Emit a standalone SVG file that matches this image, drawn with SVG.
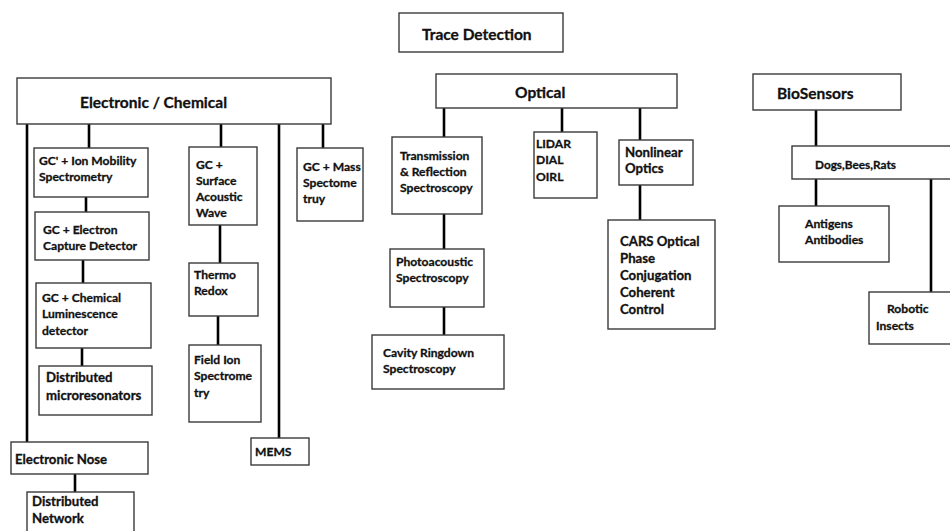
<svg xmlns="http://www.w3.org/2000/svg" width="950" height="531" viewBox="0 0 950 531">
<style>
.box{fill:#fff;stroke:#3a3a3a;stroke-width:1.4}
.ln{stroke:#000;stroke-width:2.6;fill:none}
text{font-family:Lato,"Liberation Sans",sans-serif;font-weight:bold;fill:#111;stroke:#111;stroke-width:0.3}
.h{font-size:15.5px}
.t{font-size:12.1px}
.m{font-size:13.2px}
.s{font-size:11.8px}
</style>
<rect width="950" height="531" fill="#fff"/>
<g id="connectors">
<line class="ln" x1="27" y1="124" x2="27" y2="442"/>
<line class="ln" x1="89" y1="124" x2="89" y2="148"/>
<line class="ln" x1="221" y1="124" x2="221" y2="147"/>
<line class="ln" x1="279" y1="124" x2="279" y2="438"/>
<line class="ln" x1="323" y1="124" x2="323" y2="148"/>
<line class="ln" x1="86" y1="197" x2="86" y2="212"/>
<line class="ln" x1="83" y1="260" x2="83" y2="283"/>
<line class="ln" x1="82" y1="348" x2="82" y2="366"/>
<line class="ln" x1="75" y1="474" x2="75" y2="492"/>
<line class="ln" x1="220" y1="225" x2="220" y2="263"/>
<line class="ln" x1="218" y1="316" x2="218" y2="345"/>
<line class="ln" x1="444" y1="108" x2="444" y2="137"/>
<line class="ln" x1="562" y1="108" x2="562" y2="132"/>
<line class="ln" x1="640" y1="108" x2="640" y2="140"/>
<line class="ln" x1="444" y1="214" x2="444" y2="249"/>
<line class="ln" x1="444" y1="307" x2="444" y2="335"/>
<line class="ln" x1="640" y1="185" x2="640" y2="220"/>
<line class="ln" x1="816" y1="110" x2="816" y2="146"/>
<line class="ln" x1="816" y1="179" x2="816" y2="206"/>
<line class="ln" x1="931" y1="179" x2="931" y2="292"/>
</g>
<g id="trace-detection"><rect class="box" x="399" y="13" width="164" height="39"/><text class="h" x="422" y="39.5">Trace Detection</text></g>
<g id="electronic-chemical"><rect class="box" x="17" y="78" width="314" height="46"/><text class="h" x="80" y="107.5">Electronic / Chemical</text></g>
<g id="optical"><rect class="box" x="436" y="74" width="241" height="34"/><text class="h" x="515" y="97.5">Optical</text></g>
<g id="biosensors"><rect class="box" x="753" y="74" width="148" height="36"/><text class="h" x="777" y="98.5">BioSensors</text></g>

<g id="gc-ion-mobility"><rect class="box" x="34" y="148" width="114" height="49"/><text class="t" x="39" y="164.5">GC' + Ion Mobility</text><text class="t" x="39" y="180.5">Spectrometry</text></g>
<g id="gc-electron-capture"><rect class="box" x="35" y="212" width="114" height="48"/><text class="t" x="43" y="233.5">GC + Electron</text><text class="t" x="43" y="249.5">Capture Detector</text></g>
<g id="gc-chemical-luminescence"><rect class="box" x="36" y="283" width="115" height="65"/><text class="t" x="42" y="301.5">GC + Chemical</text><text class="t" x="42" y="317.5">Luminescence</text><text class="t" x="42" y="334.5">detector</text></g>
<g id="distributed-microresonators"><rect class="box" x="39" y="366" width="113" height="49"/><text class="m" x="46" y="382">Distributed</text><text class="m" x="46" y="400">microresonators</text></g>
<g id="electronic-nose"><rect class="box" x="11" y="442" width="137" height="32"/><text class="m" x="15" y="464">Electronic Nose</text></g>
<g id="distributed-network"><rect class="box" x="27" y="492" width="107" height="45"/><text class="m" x="32" y="506">Distributed</text><text class="m" x="32" y="523">Network</text></g>

<g id="gc-saw"><rect class="box" x="189" y="147" width="68" height="78"/><text class="t" x="196" y="168.5">GC +</text><text class="t" x="196" y="184.5">Surface</text><text class="t" x="196" y="200.5">Acoustic</text><text class="t" x="196" y="216.5">Wave</text></g>
<g id="thermo-redox"><rect class="box" x="189" y="263" width="69" height="53"/><text class="t" x="194" y="278.5">Thermo</text><text class="t" x="194" y="294.5">Redox</text></g>
<g id="field-ion"><rect class="box" x="189" y="345" width="72" height="77"/><text class="t" x="194" y="363.5">Field Ion</text><text class="t" x="194" y="379.5">Spectrome</text><text class="t" x="194" y="396.5">try</text></g>
<g id="mems"><rect class="box" x="251" y="438" width="58" height="27"/><text class="t" x="255" y="455.5">MEMS</text></g>
<g id="gc-mass"><rect class="box" x="297" y="148" width="66" height="73"/><text class="t" x="303" y="170.5">GC + Mass</text><text class="t" x="303" y="186.5">Spectome</text><text class="t" x="303" y="202.5">truy</text></g>

<g id="transmission-reflection"><rect class="box" x="392" y="137" width="90" height="77"/><text class="t" x="400" y="159.5">Transmission</text><text class="t" x="400" y="175.5">&amp; Reflection</text><text class="t" x="400" y="191.5">Spectroscopy</text></g>
<g id="photoacoustic"><rect class="box" x="390" y="249" width="94" height="58"/><text class="t" x="396" y="265.5">Photoacoustic</text><text class="t" x="396" y="281.5">Spectroscopy</text></g>
<g id="cavity-ringdown"><rect class="box" x="372" y="335" width="132" height="54"/><text class="t" x="383" y="356.5">Cavity Ringdown</text><text class="t" x="383" y="372.5">Spectroscopy</text></g>
<g id="lidar"><rect class="box" x="534" y="132" width="63" height="66"/><text class="t" x="536" y="147.5">LIDAR</text><text class="t" x="536" y="163.5">DIAL</text><text class="t" x="536" y="180.5">OIRL</text></g>
<g id="nonlinear-optics"><rect class="box" x="619" y="140" width="74" height="45"/><text class="m" x="625" y="157">Nonlinear</text><text class="m" x="625" y="173">Optics</text></g>
<g id="cars"><rect class="box" x="608" y="220" width="107" height="109"/><text class="m" x="620" y="246">CARS Optical</text><text class="m" x="620" y="263">Phase</text><text class="m" x="620" y="280">Conjugation</text><text class="m" x="620" y="297">Coherent</text><text class="m" x="620" y="314">Control</text></g>

<g id="dogs-bees-rats"><rect class="box" x="792" y="146" width="170" height="33"/><text class="s" x="815" y="169">Dogs,Bees,Rats</text></g>
<g id="antigens"><rect class="box" x="779" y="206" width="110" height="56"/><text class="t" x="805" y="227.5">Antigens</text><text class="t" x="805" y="243.5">Antibodies</text></g>
<g id="robotic-insects"><rect class="box" x="869" y="292" width="93" height="52"/><text class="t" x="887" y="312.5">Robotic</text><text class="t" x="876" y="329.5">Insects</text></g>
</svg>
